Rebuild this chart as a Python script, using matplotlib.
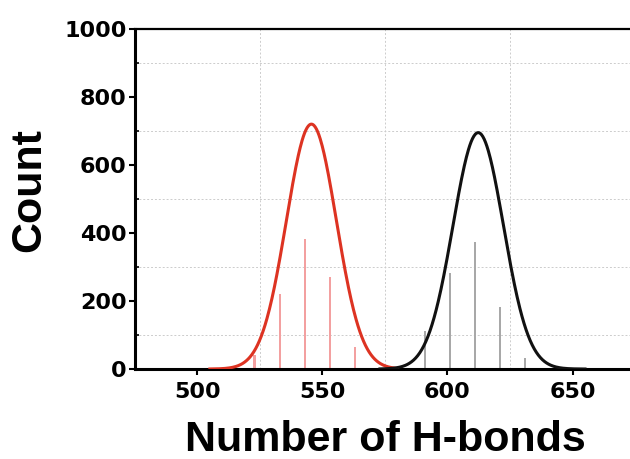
import numpy as np
import matplotlib.pyplot as plt
from matplotlib.ticker import MultipleLocator

# histogram bars
red_x = [523, 533, 543, 553, 563]
red_counts = [40, 220, 382, 271, 64]
black_x = [591, 601, 611, 621, 631]
black_counts = [113, 281, 374, 181, 33]

# gaussian fits: center, sigma, peak, drawn range
red_fit = (545.6, 10.0, 720, 505, 580)
black_fit = (612.3, 10.1, 695, 573, 655)


def gauss_curve(fit):
    mu, sig, amp, lo, hi = fit
    x = np.linspace(lo, hi, 300)
    return x, amp * np.exp(-0.5 * ((x - mu) / sig) ** 2)


plt.rcParams['font.family'] = ['Liberation Sans', 'DejaVu Sans']
plt.rcParams['font.weight'] = 'bold'

fig = plt.figure(figsize=(6.3, 4.59), dpi=100)
ax = fig.add_axes([0.214, 0.196, 0.794, 0.741])

ax.bar(red_x, red_counts, width=1.1, color='#f3a0a0', edgecolor='none', zorder=2)
ax.bar(black_x, black_counts, width=1.1, color='#a8a8a8', edgecolor='none', zorder=2)

x, y = gauss_curve(red_fit)
ax.plot(x, y, color='#dd3322', lw=2.2, zorder=3)
x, y = gauss_curve(black_fit)
ax.plot(x, y, color='#111111', lw=2.2, zorder=3)

ax.set_xlim(475, 675)
ax.set_ylim(0, 1000)
ax.xaxis.set_major_locator(MultipleLocator(50))
ax.xaxis.set_minor_locator(MultipleLocator(25))
ax.yaxis.set_major_locator(MultipleLocator(200))
ax.yaxis.set_minor_locator(MultipleLocator(100))
ax.grid(which='minor', color='#cccccc', ls=(0, (2, 2)), lw=0.7, zorder=0)

for side in ['left', 'bottom']:
    ax.spines[side].set_linewidth(2.2)
ax.spines['top'].set_linewidth(1.6)
ax.spines['right'].set_visible(False)

ax.tick_params(which='major', direction='out', length=4, width=1.5, labelsize=16, pad=2)
ax.tick_params(which='minor', direction='in', length=3, width=1.2)
ax.tick_params(axis='x', which='minor', length=0)
ax.tick_params(axis='x', which='major', pad=5)
for lab in ax.get_xticklabels() + ax.get_yticklabels():
    lab.set_family('DejaVu Sans')
    lab.set_fontweight('bold')

ax.set_xlabel('Number of H-bonds', fontsize=31, fontweight='bold', labelpad=13)
ax.set_ylabel('Count', fontsize=31, fontweight='bold')
ax.yaxis.set_label_coords(-0.172, 0.526)

fig.savefig('out.png', dpi=100)
